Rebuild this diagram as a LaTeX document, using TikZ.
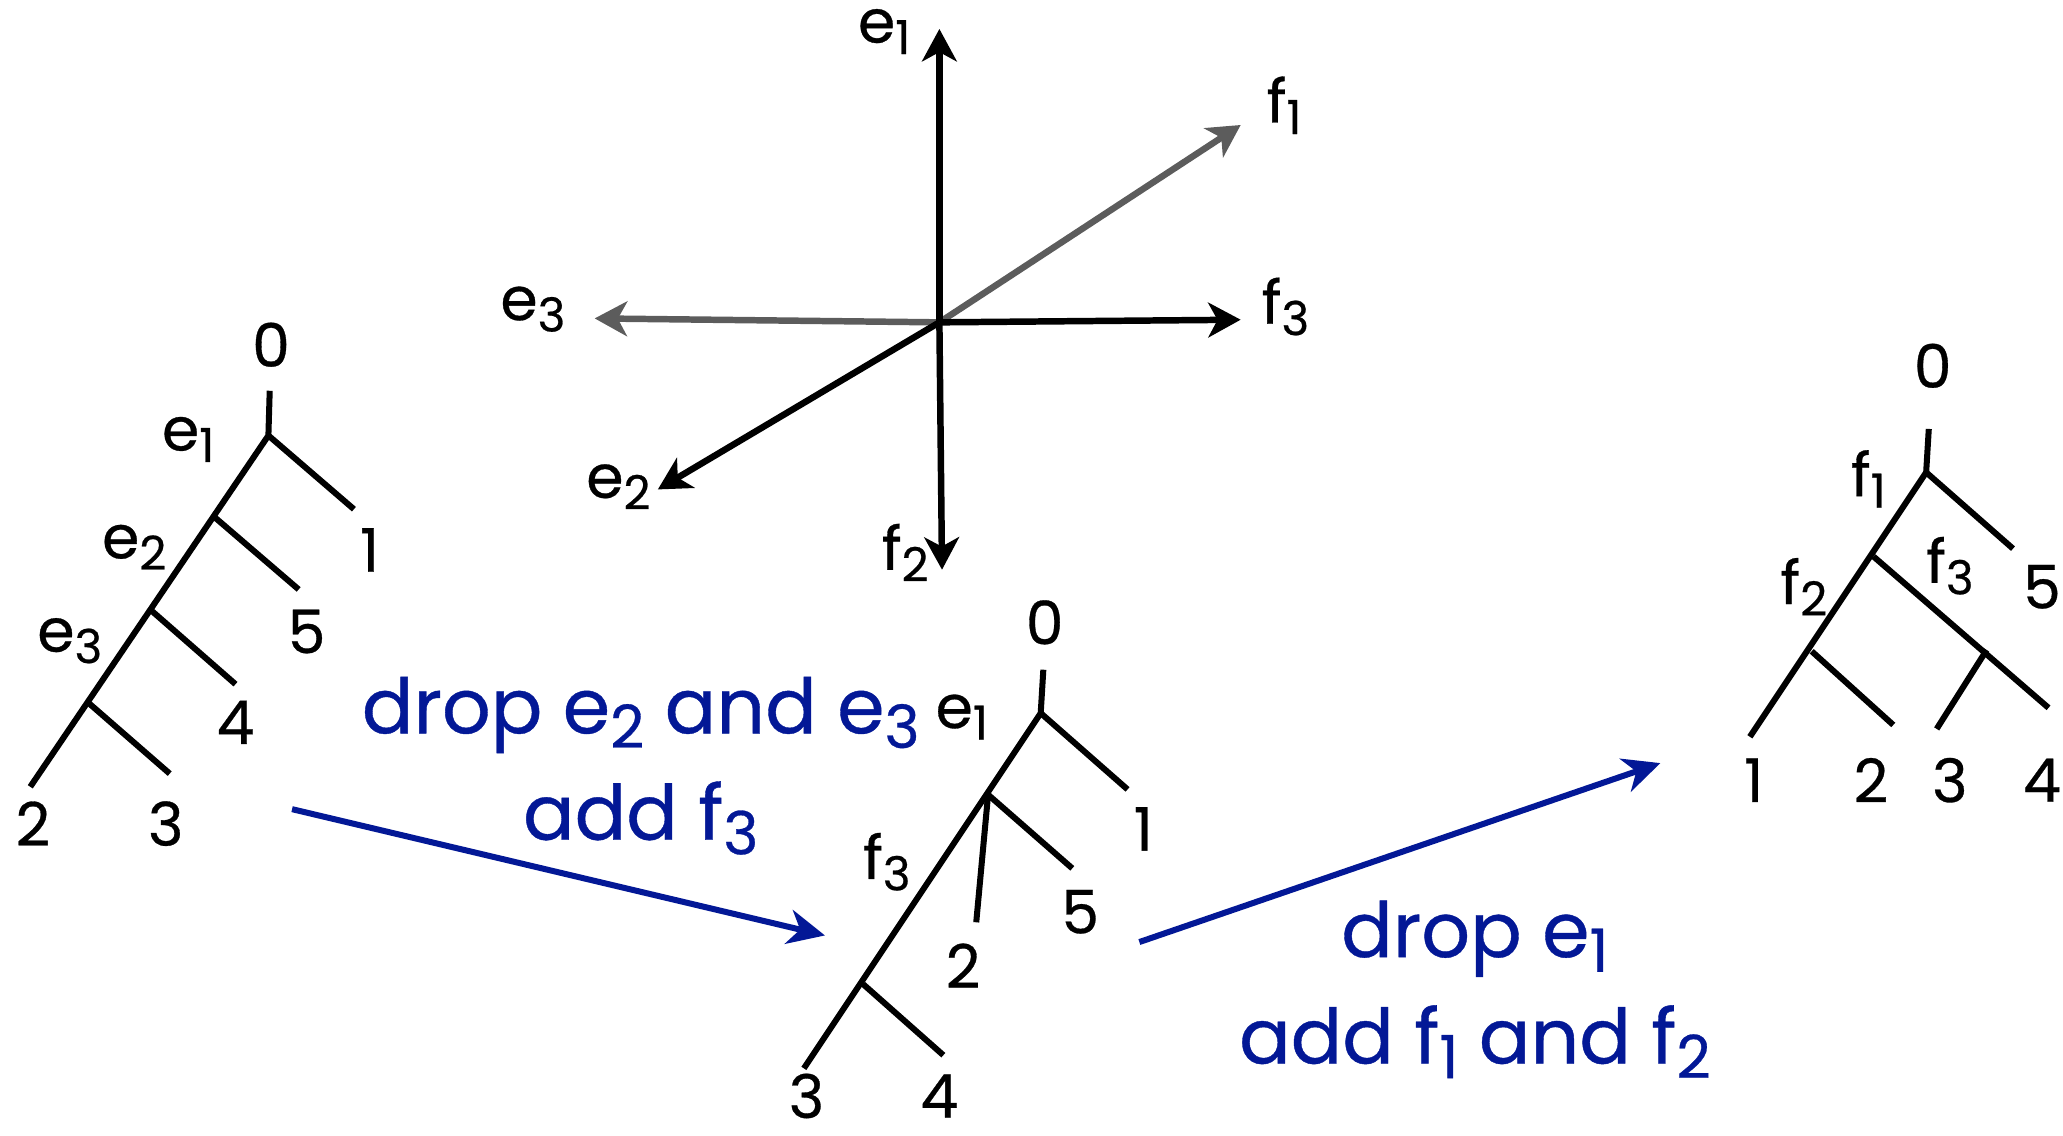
\documentclass[tikz,border=0pt]{standalone}
\usepackage{fontspec}
\setmainfont{Poppins}[UprightFeatures={FakeBold=0.5}]
\usetikzlibrary{arrows.meta}
\definecolor{dropblue}{RGB}{3,24,150}
\definecolor{vecgray}{RGB}{92,92,92}
\newcommand{\ix}[1]{\raisebox{-0.35ex}{\scalebox{0.78}{#1}}}

\begin{document}
\begin{tikzpicture}[x=0.01cm, y=-0.01cm,
    edge/.style={line width=1.3pt},
    vec/.style={line width=1.4pt, -{Stealth[length=7pt,width=7.5pt,inset=2pt]}},
    move/.style={line width=1.3pt, draw=dropblue, -{Stealth[length=8pt,width=7.5pt,inset=2.5pt]}},
    lab/.style={font=\fontsize{13}{13}\selectfont, inner sep=0pt},
    note/.style={font=\fontsize{16.5}{23}\selectfont, text=dropblue, align=center, inner sep=0pt}]
\useasboundingbox (0,0) rectangle (1568,863);

% basis vectors
\coordinate (O) at (714,245);
\coordinate (e1) at (714,22);
\coordinate (e2) at (500,372);
\coordinate (e3) at (452,242);
\coordinate (f1) at (943,95);
\coordinate (f2) at (716,433);
\coordinate (f3) at (943,243);
\draw[vec, vecgray] (O) -- (e3);
\draw[vec, vecgray] (O) -- (f1);
\draw[vec] (O) -- (e1);
\draw[vec] (O) -- (e2);
\draw[vec] (O) -- (f2);
\draw[vec] (O) -- (f3);
\node[lab] (le1) at (672,24) {e\ix{1}};
\node[lab] (le2) at (470,370) {e\ix{2}};
\node[lab] (le3) at (405,235) {e\ix{3}};
\node[lab] (lf1) at (976,80) {f\ix{1}};
\node[lab] (lf2) at (688,420) {f\ix{2}};
\node[lab] (lf3) at (977,233) {f\ix{3}};

% first tree
\coordinate (a0) at (205,297);
\coordinate (aj1) at (204,331);
\coordinate (aj2) at (163,393);
\coordinate (aj3) at (115,464);
\coordinate (aj4) at (67,534);
\coordinate (al1) at (269,387);
\coordinate (al2) at (23,598);
\coordinate (al3) at (129,588);
\coordinate (al4) at (179,520);
\coordinate (al5) at (227,448);
\draw[edge] (a0) -- (aj1) -- (al2);
\draw[edge] (aj1) -- (al1);
\draw[edge] (aj2) -- (al5);
\draw[edge] (aj3) -- (al4);
\draw[edge] (aj4) -- (al3);
\node[lab] (an0) at (206,262) {0};
\node[lab] (an1) at (281,418) {1};
\node[lab] (an5) at (233,480) {5};
\node[lab] (an4) at (179,549) {4};
\node[lab] (an3) at (126,626) {3};
\node[lab] (an2) at (25,626) {2};
\node[lab] (ae1) at (143,334) {e\ix{1}};
\node[lab] (ae2) at (102,416) {e\ix{2}};
\node[lab] (ae3) at (53,487) {e\ix{3}};

% second tree
\coordinate (b0) at (793,509);
\coordinate (bj1) at (791,542);
\coordinate (bj2) at (751,604);
\coordinate (bj3) at (656,748);
\coordinate (bl1) at (857,600);
\coordinate (bl2) at (742,701);
\coordinate (bl3) at (611,812);
\coordinate (bl4) at (717,802);
\coordinate (bl5) at (815,660);
\draw[edge] (b0) -- (bj1) -- (bl3);
\draw[edge] (bj1) -- (bl1);
\draw[edge] (bj2) -- (bl5);
\draw[edge] (bj2) -- (bl2);
\draw[edge] (bj3) -- (bl4);
\node[lab] (bn0) at (794,473) {0};
\node[lab] (bn1) at (869,630) {1};
\node[lab] (bn5) at (821,693) {5};
\node[lab] (bn2) at (732,734) {2};
\node[lab] (bn3) at (613,833) {3};
\node[lab] (bn4) at (714,833) {4};
\node[lab] (be1) at (731,545) {e\ix{1}};
\node[lab] (bf3) at (674,655) {f\ix{3}};

% third tree
\coordinate (c0) at (1466,326);
\coordinate (cj1) at (1464,359);
\coordinate (cj2) at (1424,423);
\coordinate (cj3) at (1377,495);
\coordinate (cj5) at (1510,494);
\coordinate (cl1) at (1330,560);
\coordinate (cl2) at (1439,551);
\coordinate (cl3) at (1472,554);
\coordinate (cl4) at (1557,538);
\coordinate (cl5) at (1530,417);
\draw[edge] (c0) -- (cj1) -- (cl1);
\draw[edge] (cj1) -- (cl5);
\draw[edge] (cj2) -- (cl4);
\draw[edge] (cj3) -- (cl2);
\draw[edge] (cj5) -- (cl3);
\node[lab] (cn0) at (1469,278) {0};
\node[lab] (cn5) at (1552,446) {5};
\node[lab] (cn1) at (1333,593) {1};
\node[lab] (cn2) at (1422,593) {2};
\node[lab] (cn3) at (1482,593) {3};
\node[lab] (cn4) at (1552,593) {4};
\node[lab] (cf1) at (1420,364) {f\ix{1}};
\node[lab] (cf2) at (1371,446) {f\ix{2}};
\node[lab] (cf3) at (1482,430) {f\ix{3}};

% moves
\coordinate (m1s) at (222,615);
\coordinate (m1e) at (627,711);
\coordinate (m2s) at (866,716);
\coordinate (m2e) at (1262,580);
\draw[move] (m1s) -- (m1e);
\draw[move] (m2s) -- (m2e);
\node[note] (drop1) at (487,582) {drop e\ix{2} and e\ix{3}\\add f\ix{3}};
\node[note] (drop2) at (1121,752) {drop e\ix{1}\\add f\ix{1} and f\ix{2}};
\end{tikzpicture}
\end{document}
